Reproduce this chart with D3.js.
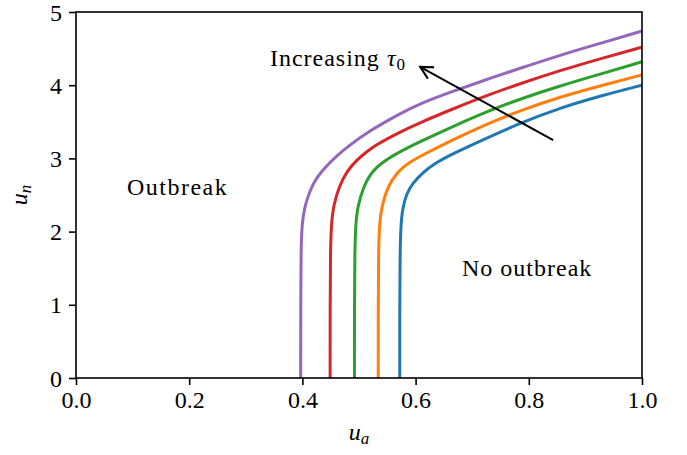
<!DOCTYPE html>
<html>
<head>
<meta charset="utf-8">
<script src="https://cdn.jsdelivr.net/npm/d3@7"></script>
<style>
  body { margin: 0; background: #fff; }
  text { font-family: "Liberation Serif", "DejaVu Serif", serif; }
</style>
</head>
<body>
<div id="root"></div>
<script>
// Threshold curves, one per tau0 value (lowest tau0 first)
const seriesNames = ["tau1", "tau2", "tau3", "tau4", "tau5"];
const seriesColors = ["#1f77b4", "#ff7f0e", "#2ca02c", "#d62728", "#9467bd"];

const uaBlue = [0.572, 0.572, 0.5725, 0.574, 0.577, 0.584, 0.595, 0.610, 0.635, 0.667, 0.726, 0.784, 0.855, 0.93, 1.0];
const unBlue = [0, 1.0, 1.7, 2.1, 2.32, 2.52, 2.66, 2.79, 2.94, 3.07, 3.28, 3.48, 3.69, 3.86, 4.00];

const uaOrange = [0.534, 0.534, 0.5345, 0.536, 0.540, 0.549, 0.558, 0.570, 0.588, 0.608, 0.667, 0.726, 0.784, 0.855, 0.93, 1.0];
const unOrange = [0, 1.0, 1.7, 2.1, 2.34, 2.57, 2.70, 2.83, 2.94, 3.03, 3.26, 3.47, 3.65, 3.84, 4.00, 4.14];

const uaGreen = [0.492, 0.492, 0.4925, 0.494, 0.498, 0.508, 0.518, 0.531, 0.548, 0.567, 0.608, 0.667, 0.726, 0.784, 0.855, 0.93, 1.0];
const unGreen = [0, 1.0, 1.7, 2.1, 2.36, 2.61, 2.76, 2.88, 2.98, 3.07, 3.23, 3.44, 3.64, 3.81, 3.99, 4.16, 4.32];

const uaRed = [0.449, 0.449, 0.4495, 0.451, 0.455, 0.465, 0.478, 0.496, 0.515, 0.531, 0.572, 0.608, 0.667, 0.726, 0.784, 0.855, 0.93, 1.0];
const unRed = [0, 1.0, 1.7, 2.1, 2.36, 2.62, 2.82, 2.98, 3.10, 3.19, 3.36, 3.49, 3.68, 3.86, 4.02, 4.20, 4.37, 4.52];

const uaPurple = [0.397, 0.397, 0.3975, 0.399, 0.404, 0.413, 0.426, 0.443, 0.460, 0.478, 0.519, 0.572, 0.608, 0.667, 0.726, 0.784, 0.855, 0.93, 1.0];
const unPurple = [0, 1.0, 1.7, 2.1, 2.34, 2.56, 2.75, 2.90, 3.03, 3.15, 3.38, 3.61, 3.75, 3.92, 4.08, 4.23, 4.41, 4.58, 4.74];

const uaSeries = [uaBlue, uaOrange, uaGreen, uaRed, uaPurple];
const unSeries = [unBlue, unOrange, unGreen, unRed, unPurple];

const xTicks = [0.0, 0.2, 0.4, 0.6, 0.8, 1.0];
const yTicks = [0, 1, 2, 3, 4, 5];

const width = 687;
const height = 455;
const margins = { top: 12, right: 45, bottom: 77, left: 76 };
const chartWidth = width - margins.left - margins.right;
const chartHeight = height - margins.top - margins.bottom;
const fontSize = 24;
const subSize = 17;

const svg = d3
  .select("#root")
  .append("svg")
  .attr("width", width)
  .attr("height", height)
  .attr("viewBox", `0 0 ${width} ${height}`);

const chartArea = svg
  .append("g")
  .attr("transform", `translate(${margins.left}, ${margins.top})`);

const xScale = d3.scaleLinear().domain([0, 1]).range([0, chartWidth]);
const yScale = d3.scaleLinear().domain([0, 5]).range([chartHeight, 0]);

// curves
const line = d3
  .line()
  .x((d) => xScale(d[0]))
  .y((d) => yScale(d[1]))
  .curve(d3.curveBasis);

chartArea
  .append("defs")
  .append("clipPath")
  .attr("id", "clip")
  .append("rect")
  .attr("width", chartWidth)
  .attr("height", chartHeight);

seriesNames.forEach((name, i) => {
  const pts = uaSeries[i].map((ua, j) => [ua, unSeries[i][j]]);
  chartArea
    .append("path")
    .attr("class", name)
    .attr("clip-path", "url(#clip)")
    .attr("d", line(pts))
    .attr("fill", "none")
    .attr("stroke", seriesColors[i])
    .attr("stroke-width", 3);
});

// axes
const xAxis = d3
  .axisBottom(xScale)
  .tickValues(xTicks)
  .tickFormat(d3.format(".1f"))
  .tickSize(7)
  .tickPadding(7);
const yAxis = d3
  .axisLeft(yScale)
  .tickValues(yTicks)
  .tickFormat(d3.format("d"))
  .tickSize(7)
  .tickPadding(7);

const xAxisArea = chartArea
  .append("g")
  .attr("transform", `translate(0, ${chartHeight})`)
  .call(xAxis);
const yAxisArea = chartArea.append("g").call(yAxis);

[xAxisArea, yAxisArea].forEach((g) => {
  g.select(".domain").remove();
  g.selectAll(".tick line").attr("stroke", "#000").attr("stroke-width", 1.6);
  g.selectAll(".tick text")
    .attr("font-family", "Liberation Serif, serif")
    .attr("font-size", fontSize)
    .attr("fill", "#000");
});
xAxisArea.selectAll(".tick text").attr("dy", "0.68em");
yAxisArea.selectAll(".tick text").attr("dy", "0.34em");

// frame
chartArea
  .append("rect")
  .attr("width", chartWidth)
  .attr("height", chartHeight)
  .attr("fill", "none")
  .attr("stroke", "#000")
  .attr("stroke-width", 1.6);

// axis labels
const xLabel = svg
  .append("text")
  .attr("x", margins.left + chartWidth / 2)
  .attr("y", 440)
  .attr("text-anchor", "middle")
  .attr("font-size", fontSize);
xLabel.append("tspan").attr("font-style", "italic").text("u");
xLabel.append("tspan").attr("font-style", "italic").attr("font-size", subSize).attr("dy", 4).text("a");

const yLabelX = 27;
const yLabelY = margins.top + chartHeight / 2;
const yLabel = svg
  .append("text")
  .attr("x", yLabelX)
  .attr("y", yLabelY)
  .attr("text-anchor", "middle")
  .attr("font-size", fontSize)
  .attr("transform", `rotate(-90, ${yLabelX}, ${yLabelY})`);
yLabel.append("tspan").attr("font-style", "italic").text("u");
yLabel.append("tspan").attr("font-style", "italic").attr("font-size", subSize).attr("dy", 4).text("n");

// region labels
chartArea
  .append("text")
  .attr("x", xScale(0.09))
  .attr("y", yScale(2.5))
  .attr("font-size", fontSize)
  .attr("letter-spacing", 1.5)
  .text("Outbreak");
chartArea
  .append("text")
  .attr("x", xScale(0.682))
  .attr("y", yScale(1.39))
  .attr("font-size", fontSize)
  .attr("letter-spacing", 1)
  .text("No outbreak");

// annotation arrow
const arrowTail = [0.843, 3.25];
const arrowTip = [0.608, 4.25];
const tx = xScale(arrowTip[0]);
const ty = yScale(arrowTip[1]);
const sx = xScale(arrowTail[0]);
const sy = yScale(arrowTail[1]);
const ang = Math.atan2(sy - ty, sx - tx);
const wing = 14;
const spread = Math.PI / 6.5;

chartArea
  .append("line")
  .attr("x1", sx)
  .attr("y1", sy)
  .attr("x2", tx)
  .attr("y2", ty)
  .attr("stroke", "#000")
  .attr("stroke-width", 2);
chartArea
  .append("path")
  .attr(
    "d",
    `M${tx + wing * Math.cos(ang - spread)},${ty + wing * Math.sin(ang - spread)}` +
      `L${tx},${ty}` +
      `L${tx + wing * Math.cos(ang + spread)},${ty + wing * Math.sin(ang + spread)}`
  )
  .attr("fill", "none")
  .attr("stroke", "#000")
  .attr("stroke-width", 2);

const annot = chartArea
  .append("text")
  .attr("x", xScale(0.583))
  .attr("y", yScale(4.26))
  .attr("text-anchor", "end")
  .attr("font-size", fontSize)
  .attr("letter-spacing", 1);
annot.append("tspan").text("Increasing ");
annot.append("tspan").attr("font-style", "italic").text("τ");
annot.append("tspan").attr("font-size", subSize).attr("dy", 4).text("0");
</script>
</body>
</html>
